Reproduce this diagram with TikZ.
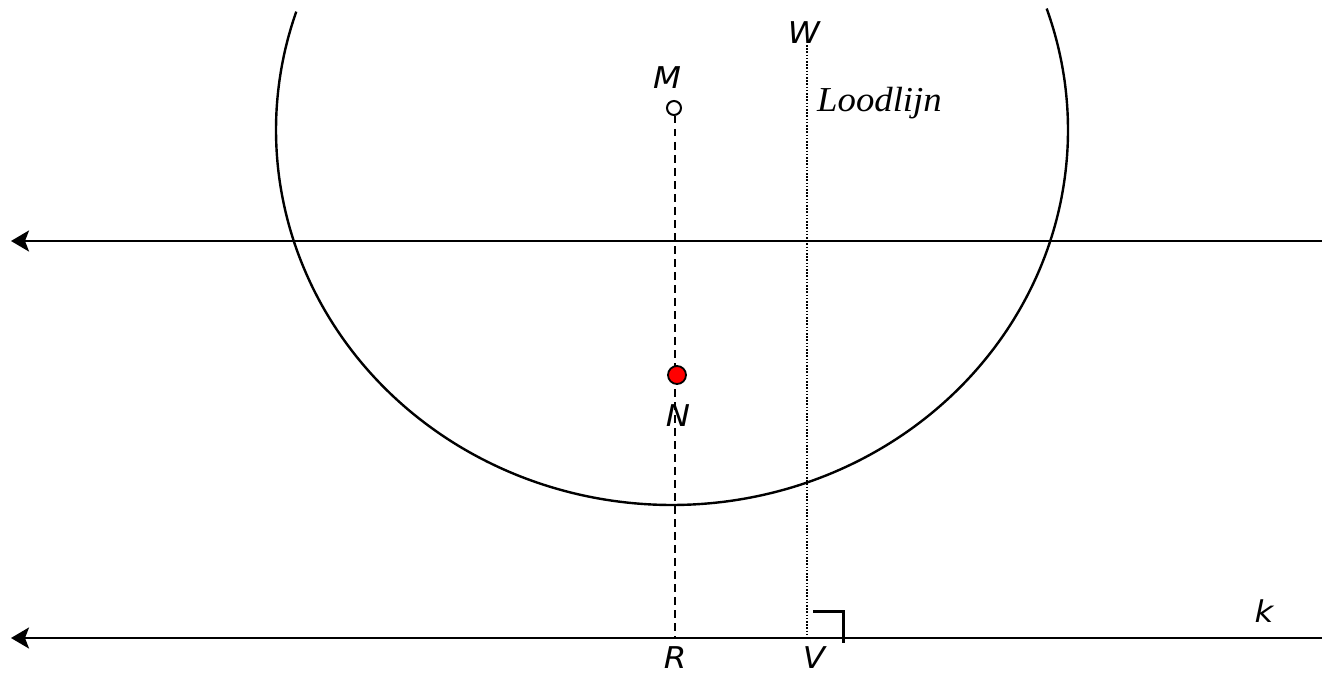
\documentclass[tikz,border=0pt]{standalone}
\usepackage{fontspec}
\setmainfont{Liberation Serif}
\setsansfont{DejaVu Sans}
\usetikzlibrary{arrows.meta}
\tikzset{
  axis/.style={line width=2.5pt, -{Stealth[length=18pt,width=21pt,inset=4pt]}},
  lbl/.style={font=\fontsize{30}{31}\selectfont\sffamily\itshape, inner sep=0pt, xscale=1.08, transform shape},
  serlbl/.style={font=\fontsize{35}{36}\selectfont\rmfamily\itshape, inner sep=0pt, anchor=base west, xscale=1.05, transform shape},
  dashedline/.style={line width=2.2pt, dash pattern=on 7.5pt off 5.5pt},
  dottedline/.style={line width=2pt, dash pattern=on 1.6pt off 1.6pt},
  curve/.style={line width=2.4pt},
}
\begin{document}
\begin{tikzpicture}[x=1pt,y=-1pt]
\useasboundingbox (0,0) rectangle (1322,674);
% coordinates
\coordinate (L1r) at (1322,241);
\coordinate (L1l) at (11,241);
\coordinate (Kr) at (1322,638);
\coordinate (Kl) at (11,638);
\coordinate (R) at (675,638);
\coordinate (V) at (807,638);
\coordinate (Wtop) at (807,45);
\coordinate (Mc) at (674,108);
\coordinate (Mbot) at (675,116);
\coordinate (Nc) at (677,375);
\coordinate (ra1) at (813,611);
\coordinate (ra2) at (843,611);
\coordinate (ra3) at (843,643);
% ellipse arc
\draw[curve] plot[domain=161.6:378.9, samples=240, smooth] ({672+396*cos(\x)}, {130-375*sin(\x)});
% horizontal lines
\draw[axis] (L1r) -- (L1l);
\draw[axis] (Kr) -- (Kl);
% dashed line M-R
\draw[dashedline] (Mbot) -- (R);
% dotted plumb line
\draw[dottedline] (Wtop) -- (V);
% right angle mark
\draw[line width=3pt] (ra1) -- (ra2) -- (ra3);
% points
\node[circle, draw, line width=2pt, fill=white, minimum size=14pt, inner sep=0pt] (M) at (Mc) {};
\node[circle, draw, line width=1.8pt, fill=red, minimum size=18pt, inner sep=0pt] (N) at (Nc) {};
% labels
\node[lbl] (Mlbl) at (667,78) {M};
\node[lbl] (Wlbl) at (804,33) {W};
\node[lbl] (Nlbl) at (678,416) {N};
\node[lbl] (Rlbl) at (675,658) {R};
\node[lbl] (Vlbl) at (814,658) {V};
\node[lbl] (klbl) at (1264,611) {k};
\node[serlbl] (lood) at (817,112) {Loodlijn};
\end{tikzpicture}
\end{document}
